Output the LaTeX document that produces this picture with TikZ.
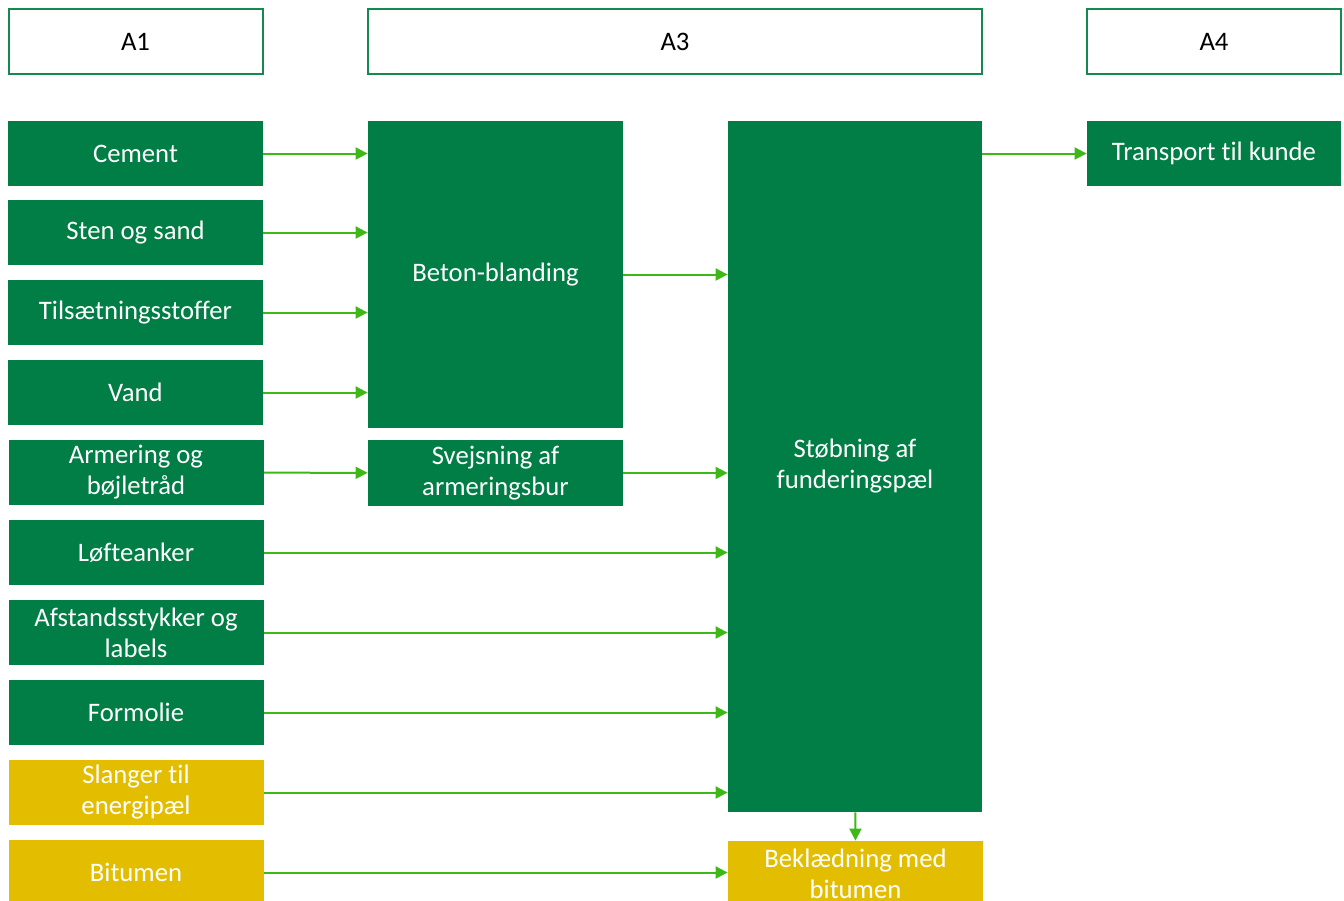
\documentclass[tikz,border=0pt]{standalone}
\usepackage{fontspec}
\setmainfont[Ligatures={NoCommon,NoDiscretionary,NoRare}]{Carlito}
\usetikzlibrary{arrows.meta}
\definecolor{boxgreen}{RGB}{0,126,69}
\definecolor{linegreen}{RGB}{61,184,22}
\definecolor{boxyellow}{RGB}{227,190,0}
\definecolor{framegreen}{RGB}{20,138,80}
\begin{document}
\begin{tikzpicture}[x=0.5pt,y=-0.5pt,
    >={Triangle[length=6pt,width=6pt]},
    every node/.style={font=\fontsize{13.35}{15.5}\selectfont,align=center,inner sep=0pt},
    phase/.style={draw=framegreen,line width=1pt,fill=white,text=black,minimum width=127pt,minimum height=32.5pt},
    proc/.style={fill=boxgreen,text=white,minimum width=127.5pt,minimum height=32.5pt},
    extra/.style={proc,fill=boxyellow},
    flow/.style={->,draw=linegreen,line width=1pt}]
  \useasboundingbox (0,0) rectangle (1344,900);

  % Phases
  \node[phase] (a1) at (135.5,41.5) {A1};
  \node[phase,minimum width=307pt] (a3) at (675,41.5) {A3};
  \node[phase] (a4) at (1214,41.5) {A4};

  % Materials
  \node[proc] (cement) at (135.5,153.5) {Cement};
  \node[proc] (sten) at (135.5,232.5) {Sten og sand};
  \node[proc] (tilsaet) at (135.5,312.5) {Tilsætningsstoffer};
  \node[proc] (vand) at (135.5,392.5) {Vand};
  \node[proc] (armering) at (136,472.5) {Armering og\\bøjletråd};
  \node[proc] (loefte) at (136,552.5) {Løfteanker};
  \node[proc] (afstand) at (136,632.5) {Afstandsstykker og\\labels};
  \node[proc] (formolie) at (136,712.5) {Formolie};
  \node[extra] (slanger) at (136,792.5) {Slanger til\\energipæl};
  \node[extra] (bitumen) at (136,872.5) {Bitumen};

  % Production
  \node[proc,minimum height=153.5pt] (beton) at (495.5,274.5) {Beton-blanding};
  \node[proc,minimum height=33pt] (svejs) at (495.5,473) {Svejsning af\\armeringsbur};
  \node[proc,minimum width=127pt,minimum height=345.5pt] (stob) at (855,466.5) {Støbning af\\funderingspæl};
  \node[extra] (beklaed) at (855.5,873.5) {Beklædning med\\bitumen};
  \node[proc,minimum width=127pt] (transport) at (1214,153.5) {Transport til kunde};

  % Flows into mixing
  \foreach \src in {cement,sten,tilsaet,vand}
    \draw[flow] (\src) -- (beton.west |- \src);
  \draw[flow] (armering) -- (svejs);

  % Flows into casting
  \draw[flow] (beton) -- (stob.west |- beton);
  \draw[flow] (svejs) -- (stob.west |- svejs);
  \foreach \src in {loefte,afstand,formolie,slanger}
    \draw[flow] (\src) -- (stob.west |- \src);
  \draw[flow] (bitumen) -- (beklaed.west |- bitumen);
  \draw[flow] (stob) -- (beklaed);

  % Transport
  \draw[flow] (stob.east |- transport) -- (transport);
\end{tikzpicture}
\end{document}
